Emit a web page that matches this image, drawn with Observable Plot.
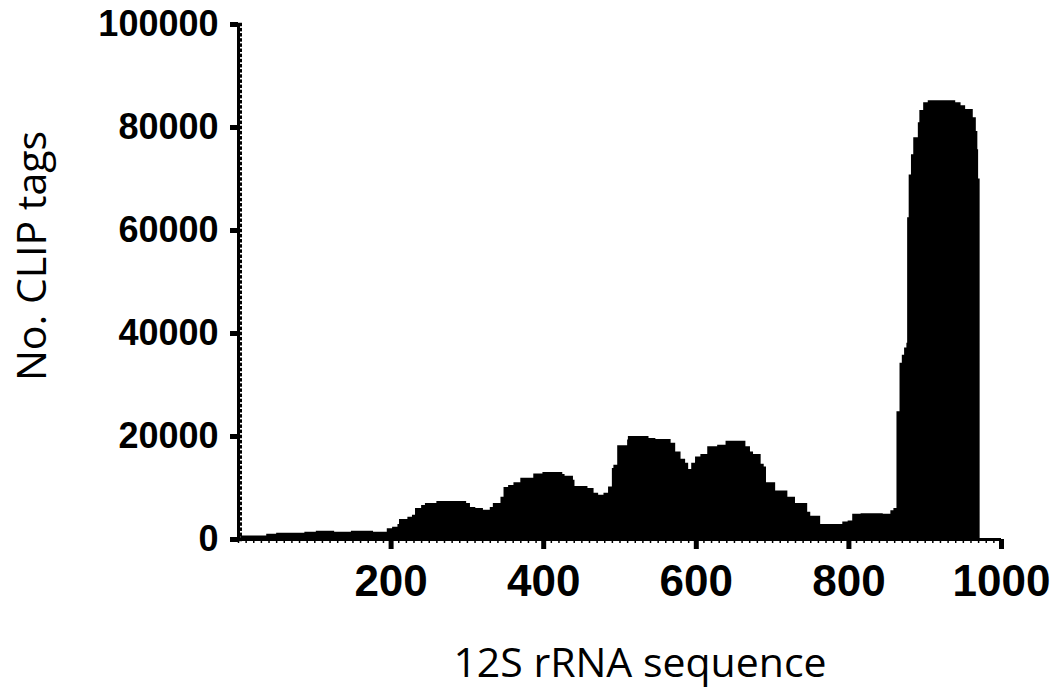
<!DOCTYPE html>
<html>
<head>
<meta charset="utf-8">
<script src="https://cdn.jsdelivr.net/npm/d3@7"></script>
<script src="https://cdn.jsdelivr.net/npm/@observablehq/plot@0.6"></script>
<style>
  html, body { margin: 0; padding: 0; background: #fff; }
</style>
</head>
<body>
<div id="chart"></div>
<script>
// Step starts along the 12S rRNA sequence (nt)
const positions = [3,37,50,87,102,126,148,177,195,202,209,211,222,228,232,240,245,260,299,304,311,321,330,334,344,348,354,361,370,387,399,425,428,439,441,458,466,472,479,485,490,492,497,510,511,538,547,567,573,580,586,590,594,599,606,615,628,639,665,671,675,685,689,692,704,720,730,746,750,763,792,799,805,816,845,855,859,863,867,870,873,876,877,879,882,885,891,893,898,904,940,947,953,963,967,969,970,972];
// Number of CLIP tags at each step
const clipTags = [700,1000,1200,1400,1600,1400,1600,1400,2100,2400,2900,3900,4300,4700,6000,6600,7000,7400,7000,6200,6000,5700,6200,7000,8200,10100,10500,11000,11900,12700,13000,12600,12300,11500,10300,9900,9000,8600,9000,10200,13800,14400,18200,19300,20000,19600,19400,18700,17000,15600,14800,13600,14800,16000,16500,18000,18300,19100,18000,17000,16500,14600,14100,11000,9400,8200,7000,5300,4500,2900,3400,3600,4900,5000,4900,5600,6000,24800,34200,35800,37200,38100,62500,70800,74700,78000,80900,83300,84800,85200,84800,84200,83500,81900,79200,75700,70000,0];

const xMajorTicks = [200, 400, 600, 800, 1000];
const yMajorTicks = [0, 20000, 40000, 60000, 80000, 100000];
const xMinorTicks = d3.range(0, 1001, 10);
const yMinorTicks = d3.range(0, 100001, 1000);
const xTitle = "12S rRNA sequence";
const yTitle = "No. CLIP tags";

const data = positions.map((p, i) => ({pos: p, tags: clipTags[i]}));

const chart = Plot.plot({
  width: 1053,
  height: 689,
  marginLeft: 238,
  marginRight: 52,
  marginTop: 24,
  marginBottom: 150,
  x: {domain: [0, 1000]},
  y: {domain: [0, 100000]},
  style: {background: "white", color: "black"},
  marks: [
    Plot.areaY(data, {x: "pos", y: "tags", curve: "step-after", fill: "black"}),
    // minor ticks
    Plot.axisX({ticks: xMinorTicks, tickSize: 4, strokeWidth: 1.5, tickFormat: () => "", label: null, stroke: "black"}),
    Plot.axisY({ticks: yMinorTicks, tickSize: -4, strokeWidth: 3.5, tickFormat: () => "", label: null, stroke: "black"}),
    // axis lines
    Plot.ruleY([0], {stroke: "black", strokeWidth: 3}),
    Plot.ruleX([0], {stroke: "black", strokeWidth: 3}),
    // major ticks and labels
    Plot.axisX({ticks: xMajorTicks, tickSize: 10, tickPadding: 15, strokeWidth: 5, tickFormat: d => String(d),
      label: null, fontSize: 44, fontWeight: "bold", fontFamily: "Liberation Sans", fill: "black", stroke: "black"}),
    Plot.axisY({ticks: yMajorTicks, tickSize: 8, tickPadding: 12, strokeWidth: 5, tickFormat: d => String(d),
      label: null, fontSize: 36, fontWeight: "bold", fontFamily: "Liberation Sans", fill: "black", stroke: "black"}),
    // axis titles
    Plot.text([yTitle], {text: d => d, frameAnchor: "left", textAnchor: "middle", lineAnchor: "middle",
      dx: -206, dy: -26, rotate: -90,
      fontSize: 41, fontFamily: "Open Sans", fontWeight: "normal", fill: "black"}),
    Plot.text([xTitle], {text: d => d, frameAnchor: "bottom", textAnchor: "middle", lineAnchor: "middle",
      dx: 20, dy: 124,
      fontSize: 41, fontFamily: "Open Sans", fontWeight: "normal", fill: "black"})
  ]
});
document.getElementById("chart").appendChild(chart);
</script>
</body>
</html>
